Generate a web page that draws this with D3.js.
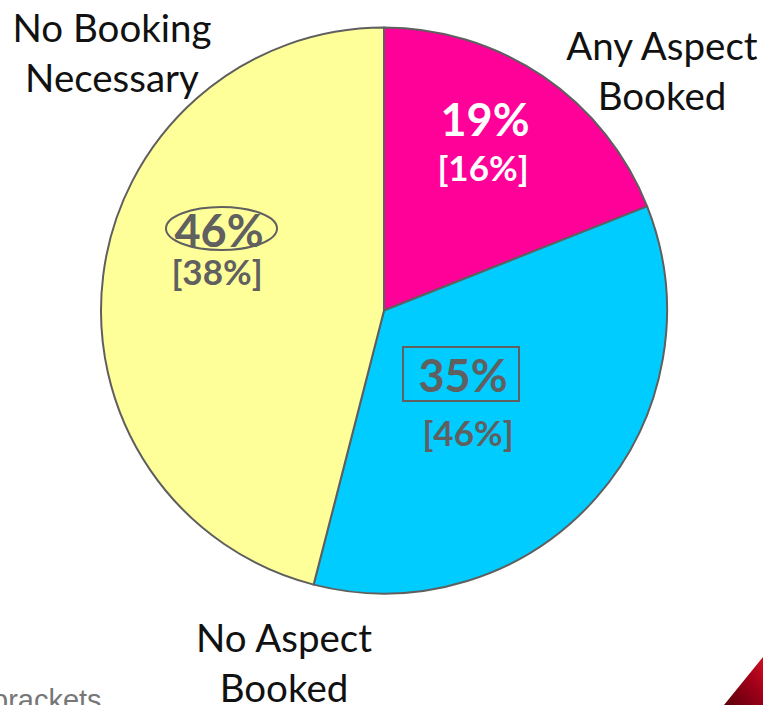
<!DOCTYPE html>
<html>
<head>
<meta charset="utf-8">
<script src="https://cdn.jsdelivr.net/npm/d3@7"></script>
<style>
  body { margin: 0; background: #fff; overflow: hidden; }
  svg { display: block; }
</style>
</head>
<body>
<svg width="763" height="705"></svg>
<script>
// chart data
var categories = ["Any Aspect Booked", "No Aspect Booked", "No Booking Necessary"];
var shares = [19, 35, 46];
var bracketShares = [16, 46, 38];
var colors = ["#ff0099", "#00ccff", "#ffff99"];
var labelColors = ["#ffffff", "#606060", "#606060"];

var svg = d3.select("svg"),
    width = +svg.attr("width"),
    height = +svg.attr("height");

var cx = 384, cy = 310.5, r = 283;
var font = "Lato, 'Open Sans', sans-serif";

var pie = d3.pie().sort(null).value(function(d) { return d; });
var arc = d3.arc().innerRadius(0).outerRadius(r);
var arcs = pie(shares);

var g = svg.append("g").attr("transform", "translate(" + cx + "," + cy + ")");

g.selectAll("path.slice")
  .data(arcs)
  .enter().append("path")
    .attr("class", "slice")
    .attr("d", arc)
    .attr("fill", function(d, i) { return colors[i]; })
    .attr("stroke", "#5f5f5f")
    .attr("stroke-width", 2)
    .attr("stroke-linejoin", "round");

// label offsets from pie centre
var mainPos = [[101, -192], [79, 64], [-165, -81]];
var subPos = [[99, -144], [84, 121], [-167, -40]];

var lab = g.selectAll("g.lab")
  .data(arcs)
  .enter().append("g")
    .attr("class", "lab");

lab.append("text")
    .attr("class", "main")
    .attr("x", function(d, i) { return mainPos[i][0]; })
    .attr("y", function(d, i) { return mainPos[i][1]; })
    .attr("text-anchor", "middle")
    .attr("dominant-baseline", "central")
    .attr("font-family", font)
    .attr("font-weight", "bold")
    .attr("font-size", 45)
    .attr("fill", function(d, i) { return labelColors[i]; })
    .text(function(d) { return d.data + "%"; });

lab.append("text")
    .attr("class", "sub")
    .attr("x", function(d, i) { return subPos[i][0]; })
    .attr("y", function(d, i) { return subPos[i][1]; })
    .attr("text-anchor", "middle")
    .attr("dominant-baseline", "central")
    .attr("font-family", font)
    .attr("font-weight", "bold")
    .attr("font-size", 35)
    .attr("fill", function(d, i) { return labelColors[i]; })
    .text(function(d, i) { return "[" + bracketShares[i] + "%]"; });

// highlight marks around two of the labels
g.append("rect")
    .attr("x", 403 - cx).attr("y", 347 - cy)
    .attr("width", 116).attr("height", 54)
    .attr("fill", "none")
    .attr("stroke", "#606060")
    .attr("stroke-width", 2);

g.append("ellipse")
    .attr("cx", 221.5 - cx).attr("cy", 228.5 - cy)
    .attr("rx", 55.5).attr("ry", 21.5)
    .attr("fill", "none")
    .attr("stroke", "#606060")
    .attr("stroke-width", 2);

// category labels outside the pie
var catLabels = [
  {lines: ["Any Aspect", "Booked"], x: 662, y: 45},
  {lines: ["No Aspect", "Booked"], x: 284, y: 637},
  {lines: ["No Booking", "Necessary"], x: 112, y: 27}
];
catLabels.forEach(function(c) {
  var t = svg.append("text")
    .attr("text-anchor", "middle")
    .attr("font-family", font)
    .attr("font-size", 38.5)
    .attr("fill", "#111");
  c.lines.forEach(function(l, j) {
    t.append("tspan")
      .attr("x", c.x)
      .attr("y", c.y + j * 50)
      .attr("dominant-baseline", "central")
      .text(l);
  });
});

// partial footnote text at bottom left
svg.append("text")
    .attr("x", -8)
    .attr("y", 710)
    .attr("font-family", "'Liberation Sans', Arial, sans-serif")
    .attr("font-size", 29)
    .attr("fill", "#777")
    .text("brackets");

// decorative red corner
var defs = svg.append("defs");
var grad = defs.append("linearGradient")
    .attr("id", "corner")
    .attr("x1", "0%").attr("y1", "100%")
    .attr("x2", "100%").attr("y2", "0%");
grad.append("stop").attr("offset", "0%").attr("stop-color", "#5a0008");
grad.append("stop").attr("offset", "60%").attr("stop-color", "#a0001a");
grad.append("stop").attr("offset", "100%").attr("stop-color", "#d01020");

svg.append("path")
    .attr("d", "M724,705 L763,657 L763,705 Z")
    .attr("fill", "url(#corner)");
</script>
</body>
</html>
